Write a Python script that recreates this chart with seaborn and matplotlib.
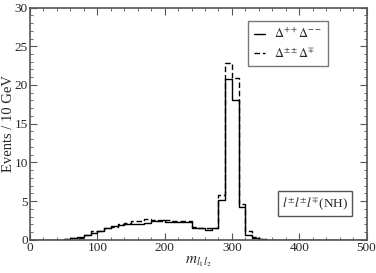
import numpy as np
import pandas as pd
import matplotlib
matplotlib.use("Agg")
import matplotlib.pyplot as plt
import seaborn as sns
from matplotlib.ticker import MultipleLocator

bin_left = list(range(0, 360, 10))
solid_vals = [0, 0, 0, 0, 0.05, 0.1, 0.2, 0.4, 0.6, 0.9,
              1.2, 1.5, 1.8, 1.9, 2.0, 2.05, 2.1, 2.2, 2.4, 2.6,
              2.3, 2.35, 2.3, 2.3, 1.6, 1.5, 1.35, 1.5, 5.2, 20.8,
              18.0, 4.3, 0.7, 0.3, 0.1, 0.02]
dashed_vals = [0, 0, 0, 0, 0.05, 0.1, 0.2, 0.3, 0.7, 1.1,
               1.2, 1.6, 1.7, 2.0, 2.2, 2.5, 2.5, 2.7, 2.6, 2.5,
               2.6, 2.5, 2.4, 2.4, 1.7, 1.6, 1.5, 1.6, 5.8, 22.8,
               20.9, 4.7, 1.1, 0.4, 0.15, 0.05]
labels = [r"$\Delta^{++}\Delta^{--}$", r"$\Delta^{\pm\pm}\Delta^{\mp}$"]

sns.set_style("ticks")
plt.rcParams["font.family"] = ["Liberation Serif", "DejaVu Serif"]
plt.rcParams["mathtext.fontset"] = "stix"

edges = bin_left + [bin_left[-1] + 10, 500]
frames = []
for lab, vals in zip(labels, [solid_vals, dashed_vals]):
    frames.append(pd.DataFrame({"x": edges, "y": vals + [0, 0], "s": lab}))
df = pd.concat(frames, ignore_index=True)

fig = plt.figure(figsize=(3.76, 2.73), dpi=100)
ax = fig.add_axes([0.0798, 0.121, 0.8952, 0.8515])
sns.lineplot(data=df, x="x", y="y", style="s", style_order=labels,
             dashes={labels[0]: "", labels[1]: (4, 2)}, color="black",
             linewidth=1.0, drawstyle="steps-post", estimator=None,
             sort=False, ax=ax)

ax.set_xlim(0, 500)
ax.set_ylim(0, 30)
ax.xaxis.set_major_locator(MultipleLocator(100))
ax.xaxis.set_minor_locator(MultipleLocator(20))
ax.yaxis.set_major_locator(MultipleLocator(5))
ax.yaxis.set_minor_locator(MultipleLocator(1))
ax.tick_params(which="both", direction="in", top=True, right=True,
               labelsize=9.5, pad=1.5, color="#555555")
ax.tick_params(which="major", length=5)
ax.tick_params(which="minor", length=2.5)
for sp in ax.spines.values():
    sp.set_color("#555555")
    sp.set_linewidth(1.2)

ax.set_xlabel(r"$m_{l_1 l_2}$", fontsize=11, labelpad=0)
ax.set_ylabel("Events / 10 GeV", fontsize=10.5, labelpad=0)

handles, hl = ax.get_legend_handles_labels()
leg = ax.legend(handles, hl, loc="upper right", bbox_to_anchor=(0.885, 0.94),
                fontsize=9, frameon=True, fancybox=False,
                handlelength=0.9, handletextpad=0.7, borderpad=0.45,
                labelspacing=0.45, borderaxespad=0)
leg.get_frame().set_edgecolor("#555555")
leg.get_frame().set_linewidth(1.0)

ax.text(0.945, 0.157, r"$l^{\pm}l^{\pm}l^{\mp}$(NH)", transform=ax.transAxes,
        ha="right", va="center", fontsize=9.5,
        bbox=dict(boxstyle="square,pad=0.3", fc="white", ec="#555555", lw=1.0))

fig.savefig("out.png", dpi=100)
